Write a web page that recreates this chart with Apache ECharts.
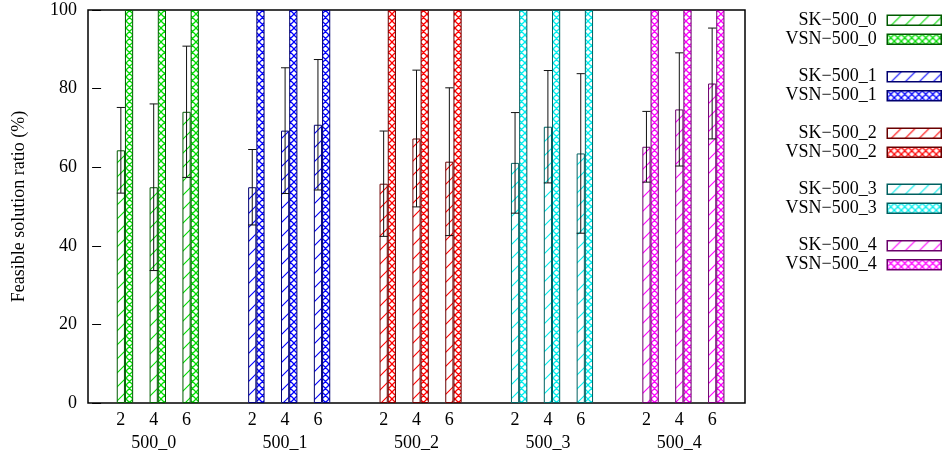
<!DOCTYPE html>
<html>
<head>
<meta charset="utf-8">
<script src="https://cdn.jsdelivr.net/npm/echarts@6/dist/echarts.min.js"></script>
<style>
  html, body { margin: 0; padding: 0; background: #fff; }
  #chart { width: 943px; height: 458px; }
</style>
</head>
<body>
<div id="chart"></div>
<script>
// Instance groups and the cluster labels inside each group
const groups = ['500_0', '500_1', '500_2', '500_3', '500_4'];
const clusterLabels = ['2', '4', '6'];

// SK: mean feasible solution ratio (%) and its deviation, per group / cluster
const skMean = [
  [64.3, 54.9, 74.1],
  [54.9, 69.3, 70.8],
  [55.8, 67.3, 61.4],
  [61.1, 70.3, 63.5],
  [65.2, 74.7, 81.3]
];
const skDev = [
  [10.9, 21.2, 16.7],
  [9.6, 16.0, 16.6],
  [13.4, 17.4, 18.8],
  [12.8, 14.3, 20.3],
  [9.0, 14.4, 14.1]
];
// VSN: feasible solution ratio (%)
const vsnRatio = [
  [100, 100, 100],
  [100, 100, 100],
  [100, 100, 100],
  [100, 100, 100],
  [100, 100, 100]
];
const yTicks = [0, 20, 40, 60, 80, 100];

// Styling
const FONT = '"Liberation Serif", "Times New Roman", serif';
const lineColors = ['#00dd00', '#0000ff', '#ff0000', '#00eeee', '#ff00ff'];
const edgeColors = ['#005a00', '#000070', '#6a0000', '#006060', '#6a006a'];
const GRID = { left: 88, right: 198, top: 10, bottom: 55 };
const CHART_W = 943;
const SLOTS = 20;                       // label axis runs over 21 points (0..20)
const SLOT_PX = (CHART_W - GRID.left - GRID.right) / SLOTS;
const BAR_W = 8.2;
// bar axes are offset half a bar so the SK bar sits centred on its tick label
const BAR_SHIFT = (BAR_W / 2) / SLOT_PX;

function slotOf(g, s) { return 4 * g + s + 1; }

// Fill patterns: single diagonal hatch for SK, cross hatch for VSN
function hatchPattern(color) {
  const n = 14;
  const c = document.createElement('canvas');
  c.width = n; c.height = n;
  const ctx = c.getContext('2d');
  ctx.fillStyle = '#fff';
  ctx.fillRect(0, 0, n, n);
  ctx.strokeStyle = color;
  ctx.lineWidth = 1.1;
  ctx.beginPath();
  ctx.moveTo(0, n); ctx.lineTo(n, 0);
  ctx.moveTo(-2, 2); ctx.lineTo(2, -2);
  ctx.moveTo(n - 2, n + 2); ctx.lineTo(n + 2, n - 2);
  ctx.stroke();
  return { image: c, repeat: 'repeat' };
}
function crossPattern(color) {
  const n = 7;
  const c = document.createElement('canvas');
  c.width = n; c.height = n;
  const ctx = c.getContext('2d');
  ctx.fillStyle = '#fff';
  ctx.fillRect(0, 0, n, n);
  ctx.strokeStyle = color;
  ctx.lineWidth = 1.3;
  ctx.beginPath();
  for (let k = -1; k <= 1; k++) {
    ctx.moveTo(k * n - 1, -1); ctx.lineTo(k * n + n + 1, n + 1);
    ctx.moveTo(k * n - 1, n + 1); ctx.lineTo(k * n + n + 1, -1);
  }
  ctx.stroke();
  return { image: c, repeat: 'repeat' };
}

const skFill = lineColors.map(hatchPattern);
const vsnFill = lineColors.map(crossPattern);

// Category axis carrying the tick labels ("2", "4", "6" and group names)
const labelData = new Array(SLOTS + 1).fill('');
groups.forEach((g, gi) => {
  clusterLabels.forEach((c, s) => {
    labelData[slotOf(gi, s)] = s === 1 ? c + '\n' + g : c;
  });
});

const xAxes = [{
  type: 'category',
  data: labelData,
  boundaryGap: false,
  axisLine: { show: false },
  axisTick: { show: false },
  splitLine: { show: false },
  axisLabel: {
    interval: 0,
    margin: 6,
    color: '#000',
    fontFamily: FONT,
    fontSize: 18,
    lineHeight: 23,
    hideOverlap: false
  }
}];
groups.forEach(() => {
  xAxes.push({
    type: 'value',
    min: -BAR_SHIFT,
    max: SLOTS - BAR_SHIFT,
    show: false
  });
});

const series = [];
groups.forEach((g, gi) => {
  series.push({
    name: 'SK\u2212' + g,
    type: 'bar',
    xAxisIndex: gi + 1,
    barWidth: BAR_W,
    barGap: '0%',
    itemStyle: { color: skFill[gi], borderColor: edgeColors[gi], borderWidth: 1 },
    data: skMean[gi].map((v, s) => [slotOf(gi, s), v])
  });
  series.push({
    name: 'VSN\u2212' + g,
    type: 'bar',
    xAxisIndex: gi + 1,
    barWidth: BAR_W,
    barGap: '0%',
    itemStyle: { color: vsnFill[gi], borderColor: edgeColors[gi], borderWidth: 1 },
    data: vsnRatio[gi].map((v, s) => [slotOf(gi, s), v])
  });
});

// Error bars (mean ± deviation) over the SK bars
const errData = [];
groups.forEach((g, gi) => {
  skMean[gi].forEach((m, s) => {
    errData.push([slotOf(gi, s), m - skDev[gi][s], m + skDev[gi][s]]);
  });
});
series.push({
  name: 'deviation',
  type: 'custom',
  xAxisIndex: 0,
  yAxisIndex: 0,
  z: 5,
  silent: true,
  data: errData,
  encode: { x: 0, y: [1, 2] },
  renderItem: function (params, api) {
    const x = api.value(0);
    const hi = api.coord([x, api.value(2)]);
    const lo = api.coord([x, api.value(1)]);
    const h = BAR_W / 2;
    const st = { stroke: '#111', lineWidth: 1 };
    return {
      type: 'group',
      children: [
        { type: 'line', shape: { x1: hi[0], y1: hi[1], x2: lo[0], y2: lo[1] }, style: st },
        { type: 'line', shape: { x1: hi[0] - h, y1: hi[1], x2: hi[0] + h, y2: hi[1] }, style: st },
        { type: 'line', shape: { x1: lo[0] - h, y1: lo[1], x2: lo[0] + h, y2: lo[1] }, style: st }
      ]
    };
  }
});

// One vertical legend block per group
const legendTops = [11.3, 67.7, 124.3, 180.3, 236.7];
const legends = groups.map((g, gi) => ({
  orient: 'vertical',
  right: 1,
  top: legendTops[gi],
  padding: 0,
  itemGap: 1,
  itemWidth: 54,
  itemHeight: 10,
  align: 'right',
  selectedMode: false,
  textStyle: { fontFamily: FONT, fontSize: 18, color: '#000', padding: [0, 5.5, 0, 0] },
  data: [
    { name: 'SK\u2212' + g, icon: 'rect',
      itemStyle: { color: skFill[gi], borderColor: edgeColors[gi], borderWidth: 1.5 } },
    { name: 'VSN\u2212' + g, icon: 'rect',
      itemStyle: { color: vsnFill[gi], borderColor: edgeColors[gi], borderWidth: 1.5 } }
  ]
}));

const chart = echarts.init(document.getElementById('chart'), null, { renderer: 'canvas' });
chart.setOption({
  animation: false,
  backgroundColor: '#fff',
  grid: {
    left: GRID.left, right: GRID.right, top: GRID.top, bottom: GRID.bottom,
    show: true, borderColor: '#000', borderWidth: 1.5, backgroundColor: 'transparent',
    outerBoundsMode: 'none'
  },
  legend: legends,
  xAxis: xAxes,
  yAxis: {
    type: 'value',
    min: yTicks[0],
    max: yTicks[yTicks.length - 1],
    interval: yTicks[1] - yTicks[0],
    name: 'Feasible solution ratio (%)',
    nameLocation: 'middle',
    nameGap: 60,
    nameTextStyle: { fontFamily: FONT, fontSize: 18, color: '#000' },
    axisLine: { show: false },
    axisTick: { show: true, inside: true, length: 9, lineStyle: { color: '#000', width: 1 } },
    splitLine: { show: false },
    axisLabel: { margin: 11, color: '#000', fontFamily: FONT, fontSize: 18 }
  },
  series: series
});
</script>
</body>
</html>
